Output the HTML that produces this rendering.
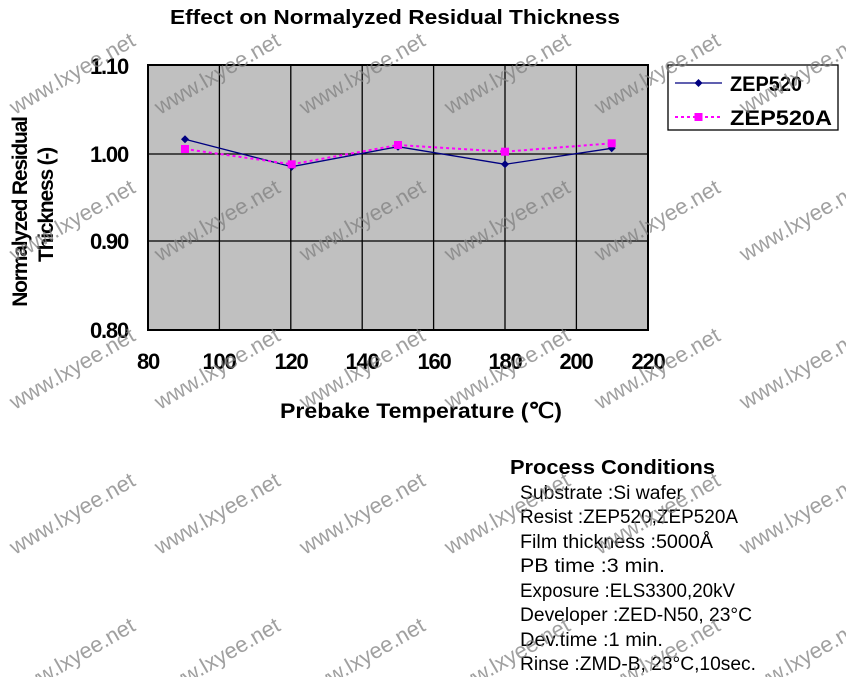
<!DOCTYPE html>
<html><head><meta charset="utf-8"><style>
html,body{margin:0;padding:0;background:#fff;}
svg{display:block;font-family:"Liberation Sans",sans-serif;}
</style></head><body>
<svg width="846" height="677" viewBox="0 0 846 677" xmlns="http://www.w3.org/2000/svg">
<text x="170" y="24" font-size="20" font-weight="bold" textLength="450" lengthAdjust="spacingAndGlyphs">Effect on Normalyzed Residual Thickness</text>
<rect x="148" y="65" width="500" height="265" fill="#c0c0c0" stroke="#000" stroke-width="2"/>
<g stroke="#000" stroke-width="1.3">
<line x1="219.4" y1="65" x2="219.4" y2="330"/><line x1="290.8" y1="65" x2="290.8" y2="330"/>
<line x1="362.2" y1="65" x2="362.2" y2="330"/><line x1="433.6" y1="65" x2="433.6" y2="330"/>
<line x1="505" y1="65" x2="505" y2="330"/><line x1="576.4" y1="65" x2="576.4" y2="330"/>
<line x1="148" y1="154" x2="648" y2="154"/><line x1="148" y1="241" x2="648" y2="241"/>
</g>
<g font-size="22" font-weight="bold" letter-spacing="-1.2" text-anchor="end">
<text x="128" y="74">1.10</text><text x="128" y="162">1.00</text><text x="128" y="249">0.90</text><text x="128" y="338">0.80</text>
</g>
<g font-size="22" font-weight="bold" letter-spacing="-1.2" text-anchor="middle">
<text x="148" y="369">80</text><text x="219" y="369">100</text><text x="291" y="369">120</text><text x="362" y="369">140</text><text x="434" y="369">160</text><text x="505" y="369">180</text><text x="576" y="369">200</text><text x="648" y="369">220</text>
</g>
<text x="280" y="418" font-size="21" font-weight="bold" textLength="282" lengthAdjust="spacingAndGlyphs">Prebake Temperature (℃)</text>
<text transform="translate(27,212) rotate(-90)" text-anchor="middle" font-size="21" font-weight="bold" letter-spacing="-1.2">Normalyzed Residual</text>
<text transform="translate(53,205) rotate(-90)" text-anchor="middle" font-size="21" font-weight="bold" letter-spacing="-1.2">Thickness (-)</text>
<polyline points="185,139.3 291.7,166.7 398,146.7 505,164.3 611.7,148.3" fill="none" stroke="#000080" stroke-width="1.3"/>
<g fill="#000080">
<path d="M185,135.3 L189,139.3 185,143.3 181,139.3Z"/><path d="M291.7,162.7 L295.7,166.7 291.7,170.7 287.7,166.7Z"/><path d="M398,142.7 L402,146.7 398,150.7 394,146.7Z"/><path d="M505,160.3 L509,164.3 505,168.3 501,164.3Z"/><path d="M611.7,144.3 L615.7,148.3 611.7,152.3 607.7,148.3Z"/>
</g>
<polyline points="185,149 291.7,164.3 398,145 505,151.7 611.7,143.3" fill="none" stroke="#ff00ff" stroke-width="2" stroke-dasharray="3,3"/>
<g fill="#ff00ff">
<rect x="181" y="145" width="8" height="8"/><rect x="287.7" y="160.3" width="8" height="8"/><rect x="394" y="141" width="8" height="8"/><rect x="501" y="147.7" width="8" height="8"/><rect x="607.7" y="139.3" width="8" height="8"/>
</g>
<rect x="668" y="65" width="170" height="65" fill="#fff" stroke="#000" stroke-width="1.3"/>
<line x1="675" y1="83" x2="722" y2="83" stroke="#000080" stroke-width="1.3"/>
<path d="M698.5,79 L702.5,83 698.5,87 694.5,83Z" fill="#000080"/>
<line x1="675" y1="117" x2="722" y2="117" stroke="#ff00ff" stroke-width="2" stroke-dasharray="3,3"/>
<rect x="694.5" y="113" width="8" height="8" fill="#ff00ff"/>
<g font-size="21" font-weight="bold">
<text x="730" y="91" textLength="72" lengthAdjust="spacingAndGlyphs">ZEP520</text><text x="730" y="125" textLength="102" lengthAdjust="spacingAndGlyphs">ZEP520A</text>
</g>
<text x="510" y="474" font-size="20" font-weight="bold" textLength="205" lengthAdjust="spacingAndGlyphs">Process  Conditions</text>
<g font-size="19">
<text x="520" y="499" textLength="163" lengthAdjust="spacingAndGlyphs">Substrate :Si wafer</text>
<text x="520" y="523" textLength="218" lengthAdjust="spacingAndGlyphs">Resist :ZEP520,ZEP520A</text>
<text x="520" y="548" textLength="193" lengthAdjust="spacingAndGlyphs">Film thickness :5000Å</text>
<text x="520" y="572" textLength="145" lengthAdjust="spacingAndGlyphs">PB  time :3  min.</text>
<text x="520" y="597" textLength="215" lengthAdjust="spacingAndGlyphs">Exposure :ELS3300,20kV</text>
<text x="520" y="621" textLength="232" lengthAdjust="spacingAndGlyphs">Developer :ZED-N50, 23°C</text>
<text x="520" y="646" textLength="143" lengthAdjust="spacingAndGlyphs">Dev.time :1  min.</text>
<text x="520" y="670" textLength="236" lengthAdjust="spacingAndGlyphs">Rinse :ZMD-B, 23°C,10sec.</text>
</g>
<g font-size="22" fill="#808080" fill-opacity="0.75">
<text transform="translate(15,115) rotate(-30)">www.lxyee.net</text>
<text transform="translate(160,115) rotate(-30)">www.lxyee.net</text>
<text transform="translate(305,115) rotate(-30)">www.lxyee.net</text>
<text transform="translate(450,115) rotate(-30)">www.lxyee.net</text>
<text transform="translate(600,115) rotate(-30)">www.lxyee.net</text>
<text transform="translate(745,115) rotate(-30)">www.lxyee.net</text>
<text transform="translate(15,262) rotate(-30)">www.lxyee.net</text>
<text transform="translate(160,262) rotate(-30)">www.lxyee.net</text>
<text transform="translate(305,262) rotate(-30)">www.lxyee.net</text>
<text transform="translate(450,262) rotate(-30)">www.lxyee.net</text>
<text transform="translate(600,262) rotate(-30)">www.lxyee.net</text>
<text transform="translate(745,262) rotate(-30)">www.lxyee.net</text>
<text transform="translate(15,410) rotate(-30)">www.lxyee.net</text>
<text transform="translate(160,410) rotate(-30)">www.lxyee.net</text>
<text transform="translate(305,410) rotate(-30)">www.lxyee.net</text>
<text transform="translate(450,410) rotate(-30)">www.lxyee.net</text>
<text transform="translate(600,410) rotate(-30)">www.lxyee.net</text>
<text transform="translate(745,410) rotate(-30)">www.lxyee.net</text>
<text transform="translate(15,555) rotate(-30)">www.lxyee.net</text>
<text transform="translate(160,555) rotate(-30)">www.lxyee.net</text>
<text transform="translate(305,555) rotate(-30)">www.lxyee.net</text>
<text transform="translate(450,555) rotate(-30)">www.lxyee.net</text>
<text transform="translate(600,555) rotate(-30)">www.lxyee.net</text>
<text transform="translate(745,555) rotate(-30)">www.lxyee.net</text>
<text transform="translate(15,700) rotate(-30)">www.lxyee.net</text>
<text transform="translate(160,700) rotate(-30)">www.lxyee.net</text>
<text transform="translate(305,700) rotate(-30)">www.lxyee.net</text>
<text transform="translate(450,700) rotate(-30)">www.lxyee.net</text>
<text transform="translate(600,700) rotate(-30)">www.lxyee.net</text>
<text transform="translate(745,700) rotate(-30)">www.lxyee.net</text>
</g>
</svg>
</body></html>
